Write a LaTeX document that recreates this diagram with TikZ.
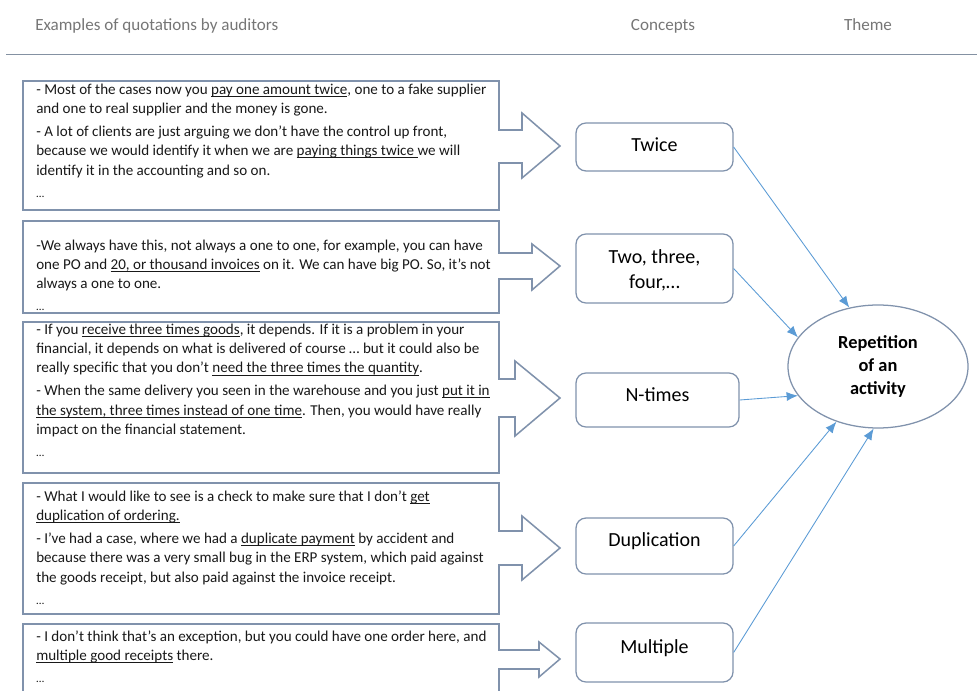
\documentclass[tikz,border=0pt]{standalone}
\usepackage{fontspec}
\setmainfont{Carlito}
\usetikzlibrary{shapes.geometric,arrows.meta}

\definecolor{boxline}{RGB}{128,146,172}
\definecolor{linkblue}{RGB}{91,155,213}
\definecolor{headgray}{RGB}{118,118,118}
\definecolor{rulegray}{RGB}{132,145,162}
\definecolor{quotetext}{RGB}{25,25,25}

% underline that sits just below the baseline, ignoring descenders
\newcommand\ulx[1]{\underline{\smash{#1}}}
% fixes the height of the first line of a quotation
\newcommand\firstln{\rule{0pt}{9pt}}
\newcommand\more{{\fontsize{8.5pt}{10pt}\selectfont …}}

\begin{document}
\begin{tikzpicture}[x=0.75pt,y=-0.75pt,
  header/.style={anchor=base,inner sep=0pt,text=headgray,font=\fontsize{12.8pt}{15pt}\selectfont},
  callout/.style={draw=boxline,line width=1.15pt,fill=white,line join=miter},
  quote/.style={anchor=north west,inner sep=0pt,align=left,text=quotetext,
    font=\fontsize{11.3pt}{14.5pt}\selectfont},
  concept/.style={draw=boxline,line width=0.95pt,rounded corners=7.5pt,
    minimum width=117.75pt,inner sep=0pt},
  concepttext/.style={inner sep=0pt,align=center,text=black,
    font=\fontsize{15pt}{18.75pt}\selectfont},
  theme/.style={ellipse,draw=boxline,line width=0.95pt,minimum width=135pt,
    minimum height=92.25pt,inner sep=0pt,align=center,
    font=\fontsize{13.8pt}{17.6pt}\selectfont\bfseries},
  link/.style={draw=linkblue,line width=0.65pt,-{Latex[length=8.5pt,width=6.8pt]}}
]
\useasboundingbox (0,0) rectangle (977,691);
\clip (0,0) rectangle (977,691);

% column headings
\node[header,anchor=base west] (h1) at (35,31) {Examples of quotations by auditors};
\node[header] (h2) at (663,31) {Concepts};
\node[header] (h3) at (868,31) {Theme};
\coordinate (r1) at (6,54.5);
\coordinate (r2) at (977,54.5);
\draw[rulegray,line width=1.3pt] (r1) -- (r2);

% quotation boxes with right-pointing arrows
\draw[callout] (23,81) -- (499,81) -- (499,130) -- (522,130) -- (522,113) -- (560,146)
  -- (522,178) -- (522,163) -- (499,163) -- (499,210) -- (23,210) -- cycle;
\draw[callout] (23,221) -- (499,221) -- (499,253) -- (532,253) -- (532,244) -- (560,266)
  -- (532,290) -- (532,279) -- (499,279) -- (499,313) -- (23,313) -- cycle;
\draw[callout] (23,322) -- (499,322) -- (499,379) -- (515,379) -- (515,361) -- (560,398)
  -- (515,436) -- (515,417) -- (499,417) -- (499,473) -- (23,473) -- cycle;
\draw[callout] (23,483) -- (499,483) -- (499,531) -- (522,531) -- (522,516) -- (560,548)
  -- (522,580) -- (522,565) -- (499,565) -- (499,614) -- (23,614) -- cycle;
\draw[callout] (23,624) -- (499,624) -- (499,650) -- (539,650) -- (539,642) -- (560,659)
  -- (539,677) -- (539,669) -- (499,669) -- (499,705) -- (23,705) -- cycle;

\node[quote] (q1) at (36,82) {\firstln- Most of the cases now you \ulx{pay one amount twice}, one to a fake supplier\\
  and one to real supplier and the money is gone.\\[2.6pt]
  - A lot of clients are just arguing we don't have the control up front,\\
  because we would identify it when we are \ulx{paying things twice\ }we will\\
  identify it in the accounting and so on.\\[2pt]
  \more};
\node[quote] (q2) at (36,238) {\firstln-We always have this, not always a one to one, for example, you can have\\
  one PO and \ulx{20, or thousand invoices} on it. We can have big PO. So, it's not\\
  always a one to one.\\[2pt]
  \more};
\node[quote] (q3) at (36,322) {\firstln- If you \ulx{receive three times goods}, it depends. If it is a problem in your\\
  financial, it depends on what is delivered of course … but it could also be\\
  really specific that you don't \ulx{need the three times the quantity}.\\[2.6pt]
  - When the same delivery you seen in the warehouse and you just \ulx{put it in}\\
  \ulx{the system, three times instead of one time}. Then, you would have really\\
  impact on the financial statement.\\[2pt]
  \more};
\node[quote] (q4) at (36,489) {\firstln- What I would like to see is a check to make sure that I don't \ulx{get}\\
  \ulx{duplication of ordering.}\\[2.6pt]
  - I've had a case, where we had a \ulx{duplicate payment} by accident and\\
  because there was a very small bug in the ERP system, which paid against\\
  the goods receipt, but also paid against the invoice receipt.\\[2pt]
  \more};
\node[quote] (q5) at (36,629) {\firstln- I don't think that's an exception, but you could have one order here, and\\
  \ulx{multiple good receipts} there.\\[2pt]
  \more};

% concepts
\node[concept,minimum height=36pt] (c1) at (654.5,147) {};
\node[concept,minimum height=51.75pt] (c2) at (654.5,268.5) {};
\node[concept,minimum height=40.5pt,minimum width=122.25pt] (c3) at (657.5,400) {};
\node[concept,minimum height=42pt] (c4) at (654.5,546) {};
\node[concept,minimum height=44.25pt] (c5) at (654.5,652.5) {};
\node[concepttext] (t1) at (654.5,145) {Twice};
\node[concepttext] (t2) at (654.5,270) {Two, three,\\four,…};
\node[concepttext] (t3) at (657.5,395) {N-times};
\node[concepttext] (t4) at (654.5,541) {Duplication};
\node[concepttext] (t5) at (654.5,648) {Multiple};

% theme
\node[theme] (th) at (878,366.5) {Repetition\\of an\\activity};

% links from concepts to the theme
\draw[link] (c1.east) -- (th.116);
\draw[link] (c2.east) -- (th.160);
\draw[link] (c3.east) -- (th.200);
\draw[link] (c4.east) -- (th.233);
\draw[link] (c5.east) -- (th.266);
\end{tikzpicture}
\end{document}
